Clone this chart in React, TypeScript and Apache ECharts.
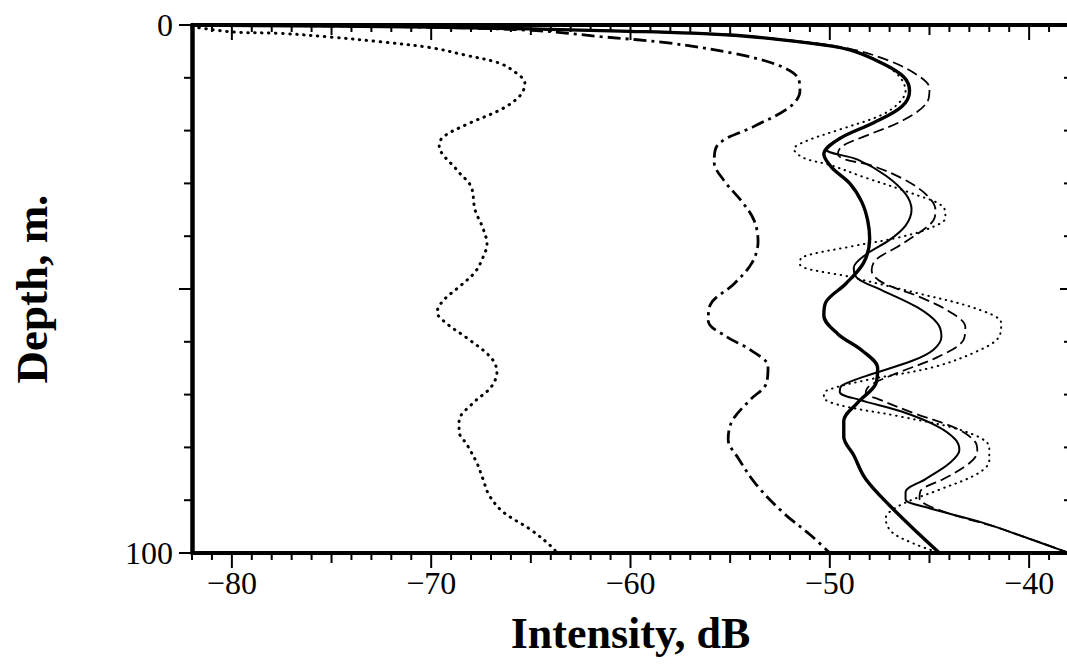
import React, { useEffect, useRef } from "react";
import * as echarts from "echarts";

const X_MIN = -82;
const X_MAX = -38;
const xMajorTicks = [-80, -70, -60, -50, -40];
const xMidTicks = [-75, -65, -55, -45];
const yLabelTicks = [0, 100];
const yMajorTicks = [0, 50, 100];
const yMinorTicks = [10, 20, 30, 40, 60, 70, 80, 90];

// Curves: [intensity dB, depth m]
const farDotted: number[][] = [
  [-82, 0.3], [-80, 1.3], [-77.5, 1.6], [-75, 2.3], [-72.5, 3.2], [-70, 4.3], [-68.3, 5.7],
  [-66.6, 7.2], [-65.8, 8.9], [-65.3, 11], [-65.5, 13.2], [-66.4, 15.8], [-68.2, 18.8],
  [-69.4, 21.2], [-69.6, 22.8], [-68.7, 27.5], [-68, 30.6], [-67.8, 35], [-67.4, 38.5],
  [-67.2, 41.5], [-67.4, 44], [-67.8, 46.8], [-68.6, 49.6], [-69.4, 52.2], [-69.7, 54.4],
  [-69.2, 56.6], [-68.2, 59.3], [-67, 63], [-66.7, 65.7], [-67, 68.6], [-67.9, 71.6],
  [-68.6, 75], [-68.6, 77], [-68.2, 79.5], [-67.7, 83], [-67.4, 86], [-67.1, 89],
  [-66.4, 92.2], [-65, 95.6], [-63.9, 99], [-63.7, 100],
];

const dashDot: number[][] = [
  [-82, 0], [-72, 0.3], [-65, 1], [-61.5, 2.2], [-58.1, 3.4], [-54.8, 5.4], [-52.6, 7.6],
  [-51.6, 10], [-51.5, 12.5], [-52, 15.5], [-53.8, 19.2], [-55.6, 22.6], [-55.8, 26],
  [-55.3, 29.5], [-54.4, 33.5], [-53.8, 37], [-53.6, 41], [-53.9, 45], [-54.8, 49],
  [-56, 53], [-56.1, 56], [-55.2, 59], [-54, 61.5], [-53.1, 64.7], [-53.2, 68], [-54, 71],
  [-54.9, 75], [-55.1, 78.5], [-54.6, 82], [-53.7, 87], [-52.3, 92.5], [-51, 96.5], [-50, 100],
];

const thickSolid: number[][] = [
  [-82, 0], [-70, 0.4], [-60, 1.2], [-55, 1.9], [-51.5, 3.2], [-49, 4.7], [-47.4, 7.2],
  [-46.3, 9.8], [-46, 12.5], [-46.4, 15.5], [-47.8, 18.5], [-49.5, 21.5], [-50.3, 24.5],
  [-49.9, 27], [-49, 30], [-48.4, 33.5], [-48.1, 37], [-48, 40.5], [-48.3, 45], [-49.2, 49],
  [-50.2, 52.5], [-50.3, 55], [-49.6, 58.5], [-48.4, 61.6], [-47.6, 65], [-47.7, 68],
  [-48.6, 71.5], [-49.3, 75], [-49.3, 78], [-48.8, 81.5], [-48.2, 86], [-47, 91],
  [-45.5, 96.5], [-44.5, 100],
];

const thinSolid: number[][] = [
  [-82, 0], [-70, 0.4], [-60, 1.2], [-55, 1.9], [-51.5, 3.2], [-49, 4.7], [-47.4, 7.2],
  [-46.3, 9.8], [-46, 12.5], [-46.4, 15.5], [-47.8, 18.5], [-49.5, 21.5], [-50.2, 23.5],
  [-48.6, 25.5], [-47.2, 28.5], [-46.2, 32], [-45.9, 35], [-46.2, 38], [-47, 40.7],
  [-48.2, 43.5], [-48.8, 46], [-48.6, 48], [-47.4, 50.2], [-45.6, 53.5], [-44.6, 56.5],
  [-44.4, 59], [-44.8, 61.5], [-45.8, 63.5], [-48.2, 66.5], [-49.4, 68.3], [-49.5, 69.5],
  [-48.5, 71], [-46.4, 73.2], [-44.6, 76], [-43.7, 78.5], [-43.5, 80.5], [-44, 83],
  [-45.2, 86], [-46.2, 88.5], [-46.2, 89.8], [-45.2, 91.3], [-42.3, 94.3], [-40, 97.3],
  [-38, 100],
];

const thinDashed: number[][] = [
  [-82, 0], [-70, 0.4], [-60, 1.2], [-55, 1.9], [-51.5, 3.1], [-49, 4.5], [-47, 6.8],
  [-45.6, 9.5], [-45, 12], [-45.1, 14.5], [-46.3, 18], [-48.2, 21], [-49.4, 23],
  [-49.6, 24.5], [-49.2, 25.5], [-48, 26.5], [-46.4, 29], [-45.2, 32], [-44.7, 35],
  [-44.8, 37], [-45.4, 39], [-46.6, 42], [-47.7, 44.5], [-47.9, 46.5], [-47.4, 48.7],
  [-45.5, 51.5], [-43.9, 54.5], [-43.2, 57.2], [-43.3, 59.7], [-44.6, 62.9], [-46.6, 65.9],
  [-48, 68.3], [-48.2, 69.8], [-47.6, 70.8], [-45.8, 73.5], [-43.6, 76.5], [-42.7, 79],
  [-42.6, 80.8], [-43, 83], [-44.3, 86], [-45.4, 88], [-45.5, 89.6], [-44.4, 92],
  [-41.5, 95.3], [-38, 100],
];

const thinDotted: number[][] = [
  [-82, 0], [-70, 0.4], [-60, 1.2], [-55, 1.9], [-51.5, 3.2], [-49, 4.7], [-47.4, 7.2],
  [-46.5, 9.8], [-46.2, 12.5], [-46.6, 15], [-47.5, 17.2], [-49.5, 19.8], [-51.2, 22],
  [-51.8, 23.5], [-51.3, 25.2], [-50, 26.5], [-48.3, 28.8], [-45.8, 32], [-44.3, 34.5],
  [-44.2, 36.5], [-45, 38.5], [-46.5, 40.2], [-49, 42], [-51.4, 44], [-51.5, 45.3],
  [-49, 47.7], [-45.6, 50.8], [-42.6, 53.8], [-41.4, 56.5], [-41.5, 59], [-42.5, 61.6],
  [-44.8, 64.8], [-48.1, 67.2], [-50.2, 69.3], [-50.3, 70.5], [-49.5, 72], [-46.4, 74.2],
  [-43.2, 77], [-42, 80], [-42, 82.5], [-42.6, 85], [-44.5, 88], [-46.5, 91], [-47.2, 93.5],
  [-46.9, 96], [-45.8, 98.2], [-44.5, 100],
];

const FONT = "'Liberation Serif', 'Times New Roman', serif";
const fmt = (v: number) => (v < 0 ? "\u2212" + Math.abs(v) : String(v));

// Tick tables built from the tick lists: [x, y, kind]
const xTickData: number[][] = [];
for (let v = X_MIN; v <= X_MAX; v++) {
  const kind = xMajorTicks.includes(v) ? 2 : xMidTicks.includes(v) ? 1 : 0;
  xTickData.push([v, 50, kind]);
}
const yTickData: number[][] = [
  ...yMajorTicks.map((d) => [-60, d, 1]),
  ...yMinorTicks.map((d) => [-60, d, 0]),
];

const X_TICK_LEN = [7, 10, 15];
const Y_LEFT_LEN = [8, 13];
const Y_RIGHT_LEN = [5, 9];

function line(name: string, data: number[][], lineStyle: any) {
  return {
    name,
    type: "line",
    xAxisIndex: 0,
    yAxisIndex: 0,
    data,
    smooth: 0.35,
    showSymbol: false,
    symbol: "none",
    lineStyle: { color: "#000", ...lineStyle },
    z: 3,
  };
}

export default function App() {
  const ref = useRef<HTMLDivElement>(null);
  useEffect(() => {
    if (!ref.current) return;
    const chart = echarts.init(ref.current, undefined, { renderer: "svg" });
    const tickStyle = { stroke: "#000", lineWidth: 2, fill: null };
    chart.setOption({
      animation: false,
      backgroundColor: "#fff",
      grid: { left: 192, top: 25, width: 877, height: 528, containLabel: false, outerBoundsMode: "none" },
      xAxis: [
        {
          type: "value",
          position: "bottom",
          min: X_MIN,
          max: X_MAX,
          splitLine: { show: false },
          axisTick: { show: false },
          axisLine: { show: true, onZero: false, lineStyle: { color: "#000", width: 4 } },
          axisLabel: {
            show: true,
            customValues: xMajorTicks,
            formatter: (v: number) => fmt(v),
            fontFamily: FONT,
            fontSize: 32,
            color: "#000",
            margin: 14,
          },
          name: "Intensity, dB",
          nameLocation: "middle",
          nameGap: 58,
          nameTextStyle: { fontFamily: FONT, fontSize: 44, fontWeight: "bold", color: "#000" },
        },
        {
          type: "value",
          position: "top",
          min: X_MIN,
          max: X_MAX,
          splitLine: { show: false },
          axisTick: { show: false },
          axisLabel: { show: false },
          axisLine: { show: true, onZero: false, lineStyle: { color: "#000", width: 4 } },
        },
      ],
      yAxis: [
        {
          type: "value",
          position: "left",
          inverse: true,
          min: 0,
          max: 100,
          splitLine: { show: false },
          axisTick: { show: false },
          axisLine: { show: true, onZero: false, lineStyle: { color: "#000", width: 4.5 } },
          axisLabel: {
            show: true,
            customValues: yLabelTicks,
            formatter: (v: number) => fmt(v),
            fontFamily: FONT,
            fontSize: 32,
            color: "#000",
            margin: 19,
          },
          name: "Depth, m.",
          nameLocation: "middle",
          nameRotate: 90,
          nameGap: 138,
          nameTextStyle: { fontFamily: FONT, fontSize: 45, fontWeight: "bold", color: "#000" },
        },
      ],
      series: [
        line("far dotted", farDotted, { width: 3, type: [0.5, 6.5], cap: "round" }),
        line("dash-dot", dashDot, { width: 2.8, type: [13, 5, 3, 5], cap: "butt" }),
        line("thin dotted", thinDotted, { width: 2, type: [0.5, 5.5], cap: "round" }),
        line("thin dashed", thinDashed, { width: 1.8, type: [11, 5], cap: "butt" }),
        line("thin solid", thinSolid, { width: 2, type: "solid" }),
        line("thick solid", thickSolid, { width: 3.4, type: "solid" }),
        {
          name: "x ticks top",
          type: "custom",
          xAxisIndex: 0,
          yAxisIndex: 0,
          clip: false,
          silent: true,
          z: 10,
          data: xTickData,
          encode: { x: 0, y: 1 },
          renderItem: (params: any, api: any) => {
            const p = api.coord([api.value(0), 0]);
            const len = X_TICK_LEN[api.value(2)];
            return {
              type: "line",
              shape: { x1: p[0], y1: p[1], x2: p[0], y2: p[1] + len },
              style: tickStyle,
            };
          },
        },
        {
          name: "x ticks bottom",
          type: "custom",
          xAxisIndex: 0,
          yAxisIndex: 0,
          clip: false,
          silent: true,
          z: 10,
          data: xTickData,
          encode: { x: 0, y: 1 },
          renderItem: (params: any, api: any) => {
            const p = api.coord([api.value(0), 100]);
            const len = X_TICK_LEN[api.value(2)];
            return {
              type: "line",
              shape: { x1: p[0], y1: p[1], x2: p[0], y2: p[1] + len },
              style: tickStyle,
            };
          },
        },
        {
          name: "y ticks left",
          type: "custom",
          xAxisIndex: 0,
          yAxisIndex: 0,
          clip: false,
          silent: true,
          z: 10,
          data: yTickData,
          encode: { x: 0, y: 1 },
          renderItem: (params: any, api: any) => {
            const p = api.coord([X_MIN, api.value(1)]);
            const len = Y_LEFT_LEN[api.value(2)];
            return {
              type: "rect",
              shape: { x: p[0] - len, y: p[1] - 1, width: len + 2, height: 2 },
              style: { fill: "#000", stroke: null },
            };
          },
        },
        {
          name: "y ticks right",
          type: "custom",
          xAxisIndex: 0,
          yAxisIndex: 0,
          clip: false,
          silent: true,
          z: 10,
          data: yTickData,
          encode: { x: 0, y: 1 },
          renderItem: (params: any, api: any) => {
            const p = api.coord([X_MAX, api.value(1)]);
            const len = Y_RIGHT_LEN[api.value(2)];
            return {
              type: "rect",
              shape: { x: p[0] - len, y: p[1] - 1, width: len, height: 2 },
              style: { fill: "#000", stroke: null },
            };
          },
        },
      ],
    });
    return () => chart.dispose();
  }, []);
  return (
    <div
      ref={ref}
      style={{ position: "absolute", left: 0, top: 0, width: 1067, height: 669, background: "#fff" }}
    />
  );
}
